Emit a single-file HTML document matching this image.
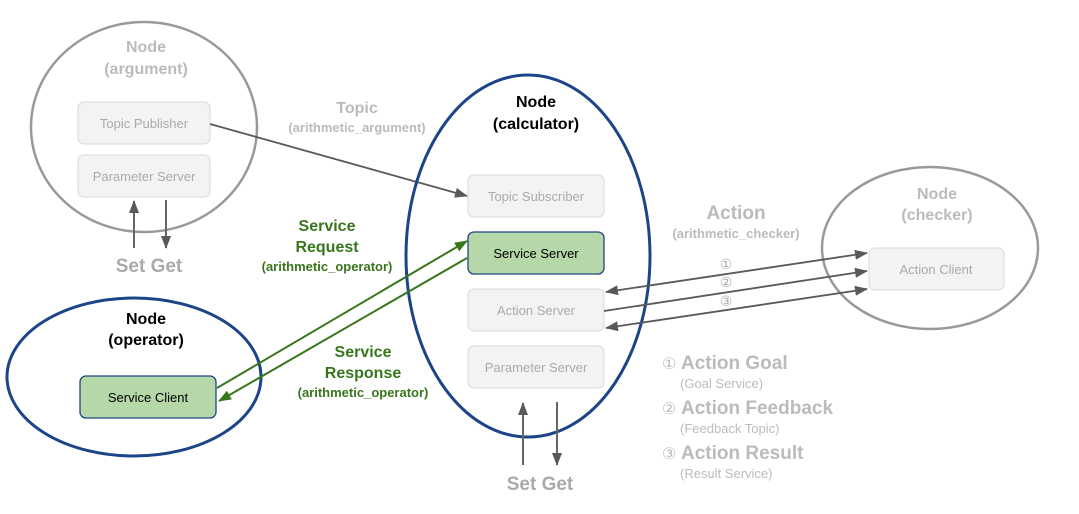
<!DOCTYPE html>
<html><head><meta charset="utf-8"><style>
html,body{margin:0;padding:0;background:#fff;}
svg{display:block;font-family:"Liberation Sans",Arial,sans-serif;}
</style></head><body>
<svg width="1079" height="514" viewBox="0 0 1079 514" xmlns="http://www.w3.org/2000/svg">
<defs>
<marker id="ag" markerWidth="13" markerHeight="10" refX="12" refY="5" orient="auto" markerUnits="userSpaceOnUse"><path d="M0,0 L13,5 L0,10 z" fill="#595959"/></marker>
<marker id="agr" markerWidth="13" markerHeight="10" refX="12" refY="5" orient="auto-start-reverse" markerUnits="userSpaceOnUse"><path d="M0,0 L13,5 L0,10 z" fill="#595959"/></marker>
<marker id="gg" markerWidth="13" markerHeight="10" refX="12" refY="5" orient="auto" markerUnits="userSpaceOnUse"><path d="M0,0 L13,5 L0,10 z" fill="#38761d"/></marker>
</defs>
<!-- argument node -->
<ellipse cx="144" cy="127" rx="113" ry="105" fill="none" stroke="#999" stroke-width="2.5"/>
<text x="146" y="52" font-size="16" font-weight="bold" fill="#bbb" text-anchor="middle">Node</text>
<text x="146" y="74" font-size="16" font-weight="bold" fill="#bbb" text-anchor="middle">(argument)</text>
<rect x="78" y="102" width="132" height="42" rx="6" fill="#f3f3f3" stroke="#d9d9d9"/>
<text x="144" y="128" font-size="13" fill="#aaa" text-anchor="middle">Topic Publisher</text>
<rect x="78" y="155" width="132" height="42" rx="6" fill="#f3f3f3" stroke="#d9d9d9"/>
<text x="144" y="181" font-size="13" fill="#aaa" text-anchor="middle">Parameter Server</text>
<line x1="134" y1="248" x2="134" y2="201" stroke="#666" stroke-width="2" marker-end="url(#ag)"/>
<line x1="166" y1="200" x2="166" y2="248" stroke="#666" stroke-width="2" marker-end="url(#ag)"/>
<text x="149" y="272" font-size="19" font-weight="bold" fill="#aaa" text-anchor="middle">Set Get</text>
<!-- topic -->
<line x1="210" y1="124" x2="467" y2="196" stroke="#595959" stroke-width="1.8" marker-end="url(#ag)"/>
<text x="357" y="113" font-size="16" font-weight="bold" fill="#bbb" text-anchor="middle">Topic</text>
<text x="357" y="132" font-size="13" font-weight="bold" fill="#bbb" text-anchor="middle">(arithmetic_argument)</text>
<!-- calculator -->
<ellipse cx="528" cy="256" rx="122" ry="181" fill="none" stroke="#1c4587" stroke-width="3"/>
<text x="536" y="107" font-size="16" font-weight="bold" fill="#000" text-anchor="middle">Node</text>
<text x="536" y="129" font-size="16" font-weight="bold" fill="#000" text-anchor="middle">(calculator)</text>
<rect x="468" y="175" width="136" height="42" rx="6" fill="#f3f3f3" stroke="#d9d9d9"/>
<text x="536" y="201" font-size="13" fill="#aaa" text-anchor="middle">Topic Subscriber</text>
<rect x="468" y="232" width="136" height="42" rx="6" fill="#b6d7a8" stroke="#1c4587" stroke-width="1.3"/>
<text x="536" y="258" font-size="13" fill="#000" text-anchor="middle">Service Server</text>
<rect x="468" y="289" width="136" height="42" rx="6" fill="#f3f3f3" stroke="#d9d9d9"/>
<text x="536" y="315" font-size="13" fill="#aaa" text-anchor="middle">Action Server</text>
<rect x="468" y="346" width="136" height="42" rx="6" fill="#f3f3f3" stroke="#d9d9d9"/>
<text x="536" y="372" font-size="13" fill="#aaa" text-anchor="middle">Parameter Server</text>
<line x1="523" y1="465" x2="523" y2="403" stroke="#666" stroke-width="2" marker-end="url(#ag)"/>
<line x1="557" y1="402" x2="557" y2="465" stroke="#666" stroke-width="2" marker-end="url(#ag)"/>
<text x="540" y="490" font-size="19" font-weight="bold" fill="#aaa" text-anchor="middle">Set Get</text>
<!-- operator -->
<ellipse cx="134" cy="377" rx="127" ry="79" fill="none" stroke="#1c4587" stroke-width="3"/>
<text x="146" y="324" font-size="16" font-weight="bold" fill="#000" text-anchor="middle">Node</text>
<text x="146" y="345" font-size="16" font-weight="bold" fill="#000" text-anchor="middle">(operator)</text>
<rect x="80" y="376" width="136" height="42" rx="6" fill="#b6d7a8" stroke="#1c4587" stroke-width="1.3"/>
<text x="148" y="402" font-size="13" fill="#000" text-anchor="middle">Service Client</text>
<!-- service arrows -->
<line x1="217" y1="388" x2="467" y2="241" stroke="#38761d" stroke-width="2" marker-end="url(#gg)"/>
<line x1="467" y1="258" x2="219" y2="401" stroke="#38761d" stroke-width="2" marker-end="url(#gg)"/>
<g font-weight="bold" fill="#38761d" text-anchor="middle">
<text x="327" y="231" font-size="16">Service</text>
<text x="327" y="252" font-size="16">Request</text>
<text x="327" y="271" font-size="13">(arithmetic_operator)</text>
<text x="363" y="357" font-size="16">Service</text>
<text x="363" y="378" font-size="16">Response</text>
<text x="363" y="397" font-size="13">(arithmetic_operator)</text>
</g>
<!-- checker -->
<ellipse cx="930" cy="248" rx="108" ry="81" fill="none" stroke="#999" stroke-width="2.5"/>
<text x="937" y="199" font-size="16" font-weight="bold" fill="#bbb" text-anchor="middle">Node</text>
<text x="937" y="220" font-size="16" font-weight="bold" fill="#bbb" text-anchor="middle">(checker)</text>
<rect x="869" y="248" width="135" height="42" rx="6" fill="#f3f3f3" stroke="#d9d9d9"/>
<text x="936" y="274" font-size="13" fill="#aaa" text-anchor="middle">Action Client</text>
<!-- action arrows -->
<line x1="606" y1="292" x2="867" y2="253" stroke="#595959" stroke-width="1.8" marker-start="url(#agr)" marker-end="url(#ag)"/>
<line x1="604" y1="311" x2="867" y2="271" stroke="#595959" stroke-width="1.8" marker-end="url(#ag)"/>
<line x1="606" y1="328" x2="867" y2="289" stroke="#595959" stroke-width="1.8" marker-start="url(#agr)" marker-end="url(#ag)"/>
<g font-size="14" fill="#aaa" text-anchor="middle">
<text x="726" y="269">①</text><text x="726" y="287">②</text><text x="726" y="306">③</text>
</g>
<text x="736" y="219" font-size="19" font-weight="bold" fill="#bbb" text-anchor="middle">Action</text>
<text x="736" y="238" font-size="13" font-weight="bold" fill="#bbb" text-anchor="middle">(arithmetic_checker)</text>
<!-- legend -->
<g fill="#bbb">
<text x="662" y="369" font-size="16">①</text>
<text x="681" y="369" font-size="19" font-weight="bold">Action Goal</text>
<text x="680" y="388" font-size="13">(Goal Service)</text>
<text x="662" y="414" font-size="16">②</text>
<text x="681" y="414" font-size="19" font-weight="bold">Action Feedback</text>
<text x="680" y="433" font-size="13">(Feedback Topic)</text>
<text x="662" y="459" font-size="16">③</text>
<text x="681" y="459" font-size="19" font-weight="bold">Action Result</text>
<text x="680" y="478" font-size="13">(Result Service)</text>
</g>
</svg>
</body></html>
